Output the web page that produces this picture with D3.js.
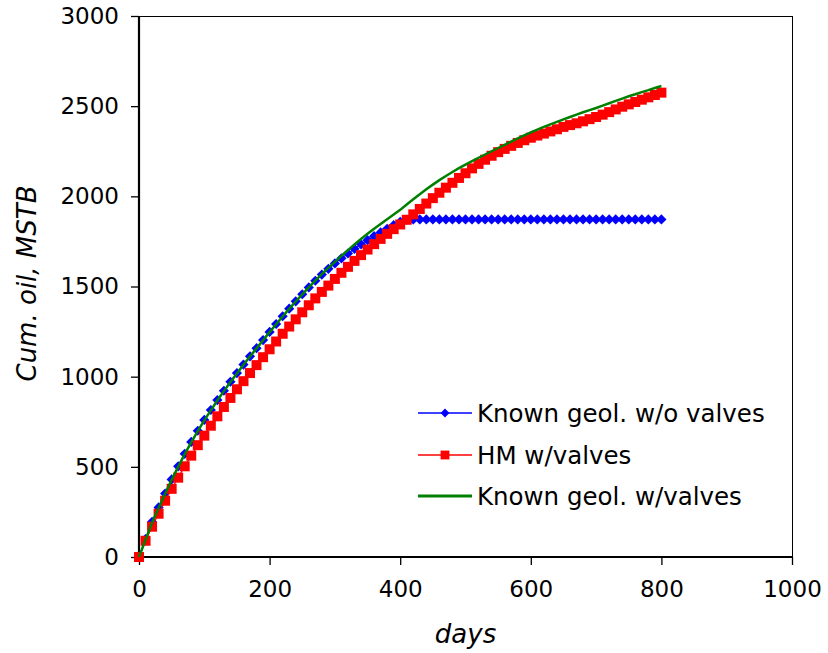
<!DOCTYPE html>
<html>
<head>
<meta charset="utf-8">
<script src="https://cdn.jsdelivr.net/npm/d3@7/dist/d3.min.js"></script>
<style>
  html, body { margin: 0; padding: 0; background: #fff; }
  svg { display: block; }
  text { font-family: "DejaVu Sans", Verdana, sans-serif; fill: #000; }
</style>
</head>
<body>
<svg id="chart" width="828" height="653"></svg>
<script>
// ---- data ----
const days = d3.range(0, 801, 10);
const knownNoValves = [0, 100, 195, 275, 352, 430, 503, 572, 638, 700,
  760, 815, 870, 922, 972, 1020, 1067, 1113, 1158, 1203,
  1248, 1292, 1335, 1377, 1418, 1457, 1495, 1532, 1566, 1598,
  1628, 1656, 1683, 1709, 1734, 1757, 1779, 1800, 1820, 1840,
  1858, 1870, 1872, 1872, 1872, 1872, 1872, 1872, 1872, 1872,
  1872, 1872, 1872, 1872, 1872, 1872, 1872, 1872, 1872, 1872,
  1872, 1872, 1872, 1872, 1872, 1872, 1872, 1872, 1872, 1872,
  1872, 1872, 1872, 1872, 1872, 1872, 1872, 1872, 1872, 1872, 1872];
const hmValves = [0, 90, 168, 240, 312, 378, 440, 503, 562, 620,
  673, 728, 780, 832, 882, 930, 975, 1020, 1064, 1108,
  1152, 1195, 1238, 1278, 1318, 1357, 1396, 1434, 1470, 1505,
  1542, 1576, 1609, 1642, 1674, 1705, 1735, 1764, 1792, 1818,
  1844, 1870, 1900, 1930, 1960, 1990, 2020, 2048, 2075, 2102,
  2128, 2155, 2180, 2203, 2225, 2245, 2263, 2280, 2296, 2311,
  2325, 2337, 2348, 2360, 2372, 2385, 2395, 2405, 2416, 2428,
  2440, 2453, 2467, 2482, 2497, 2510, 2523, 2536, 2549, 2562, 2575];
const knownValves = [0, 95, 190, 272, 350, 428, 500, 570, 636, 698,
  758, 813, 868, 920, 970, 1018, 1066, 1112, 1157, 1202,
  1247, 1291, 1334, 1376, 1417, 1456, 1495, 1533, 1569, 1603,
  1637, 1670, 1702, 1733, 1763, 1792, 1820, 1847, 1873, 1899,
  1925, 1955, 1984, 2012, 2039, 2065, 2090, 2113, 2135, 2156,
  2176, 2195, 2214, 2232, 2250, 2268, 2286, 2304, 2321, 2338,
  2355, 2370, 2385, 2399, 2413, 2427, 2440, 2453, 2466, 2478,
  2490, 2503, 2516, 2529, 2542, 2555, 2566, 2578, 2589, 2601, 2612];
const xTicks = [0, 200, 400, 600, 800, 1000];
const yTicks = [0, 500, 1000, 1500, 2000, 2500, 3000];
const seriesNames = ["Known geol. w/o valves", "HM w/valves", "Known geol. w/valves"];

// ---- layout ----
const svg = d3.select("#chart");
const L = 139, R = 792, T = 16, B = 557;
const x = d3.scaleLinear().domain([0, 1000]).range([L, R]);
const y = d3.scaleLinear().domain([0, 3000]).range([B, T]);

// frame (top & right thin)
svg.append("line").attr("x1", L).attr("x2", R).attr("y1", T + 0.5).attr("y2", T + 0.5)
  .attr("stroke", "#000").attr("stroke-width", 1);
svg.append("line").attr("x1", R + 0.5).attr("x2", R + 0.5).attr("y1", T).attr("y2", B)
  .attr("stroke", "#000").attr("stroke-width", 1);

// axes
const xAxis = d3.axisBottom(x).tickValues(xTicks).tickSize(8).tickPadding(10).tickFormat(d3.format("d"));
const yAxis = d3.axisLeft(y).tickValues(yTicks).tickSize(8).tickPadding(12).tickFormat(d3.format("d"));

const gx = svg.append("g").attr("transform", `translate(0,${B})`).call(xAxis);
const gy = svg.append("g").attr("transform", `translate(${L},0)`).call(yAxis);
[gx, gy].forEach(g => {
  g.select(".domain").remove();
  g.selectAll(".tick line").attr("stroke", "#000").attr("stroke-width", 1.3);
  g.selectAll(".tick text").style("font-size", "23px").style("font-family", '"DejaVu Sans", Verdana, sans-serif').attr("fill", "#000");
});
gx.selectAll(".tick text").attr("dy", "0.95em");
// main axis lines (thicker)
svg.append("line").attr("x1", L).attr("x2", L).attr("y1", T).attr("y2", B + 1)
  .attr("stroke", "#000").attr("stroke-width", 2.2);
svg.append("line").attr("x1", L - 1).attr("x2", R + 1).attr("y1", B).attr("y2", B)
  .attr("stroke", "#000").attr("stroke-width", 2.2);

// axis titles
svg.append("text").attr("x", x(500)).attr("y", 643).attr("text-anchor", "middle")
  .style("font-size", "26px").style("font-style", "italic").text("days");
svg.append("text").attr("transform", `translate(36,${(T + B) / 2 - 3}) rotate(-90)`)
  .attr("text-anchor", "middle").style("font-size", "26px").style("font-style", "italic")
  .text("Cum. oil, MSTB");

// series
const line = d3.line().x(d => x(d[0])).y(d => y(d[1]));
const blueData = days.map((d, i) => [d, knownNoValves[i]]);
const redData = days.map((d, i) => [d, hmValves[i]]);
const greenData = days.map((d, i) => [d, knownValves[i]]);

const plot = svg.append("g");
const diamond = d3.symbol().type(d3.symbolDiamond2).size(66);
const square = d3.symbol().type(d3.symbolSquare).size(100);

plot.append("path").datum(blueData).attr("d", line).attr("fill", "none").attr("stroke", "#0000ff").attr("stroke-width", 1.2);
plot.selectAll(".bm").data(blueData).enter().append("path").attr("class", "bm")
  .attr("d", diamond).attr("transform", d => `translate(${x(d[0])},${y(d[1])})`).attr("fill", "#0000ff");

plot.append("path").datum(redData).attr("d", line).attr("fill", "none").attr("stroke", "#ff0000").attr("stroke-width", 1.2);
plot.selectAll(".rm").data(redData).enter().append("path").attr("class", "rm")
  .attr("d", square).attr("transform", d => `translate(${x(d[0])},${y(d[1])})`).attr("fill", "#ff0000");

plot.append("path").datum(greenData).attr("d", line).attr("fill", "none").attr("stroke", "#008000").attr("stroke-width", 2.5);

// legend
const legY = [413, 455, 496];
const legColors = ["#0000ff", "#ff0000", "#008000"];
const lg = svg.append("g");
seriesNames.forEach((name, i) => {
  lg.append("line").attr("x1", 418).attr("x2", 472).attr("y1", legY[i]).attr("y2", legY[i])
    .attr("stroke", legColors[i]).attr("stroke-width", i === 2 ? 2.8 : 1.3);
  if (i === 0) lg.append("path").attr("d", d3.symbol().type(d3.symbolDiamond2).size(50))
    .attr("transform", `translate(445,${legY[i]})`).attr("fill", legColors[i]);
  if (i === 1) lg.append("path").attr("d", d3.symbol().type(d3.symbolSquare).size(78))
    .attr("transform", `translate(445,${legY[i]})`).attr("fill", legColors[i]);
  lg.append("text").attr("x", 477).attr("y", legY[i]).attr("dy", "0.36em")
    .style("font-size", "24.5px").text(name);
});
</script>
</body>
</html>
